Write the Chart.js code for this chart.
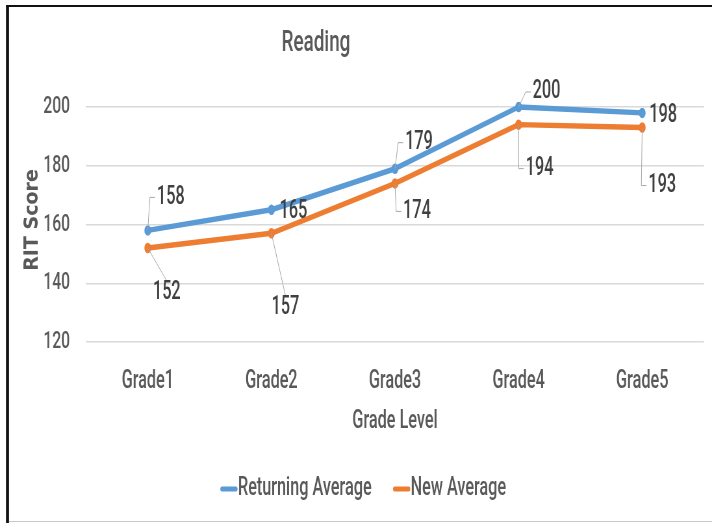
<!DOCTYPE html>
<html>
<head>
<meta charset="utf-8">
<script src="https://cdn.jsdelivr.net/npm/chart.js@4"></script>
<style>
  html, body { margin: 0; padding: 0; background: #fff; }
  #wrap { width: 712px; height: 523px; overflow: hidden; position: relative; }
  /* the original picture is squeezed sideways; draw wide, then squeeze to 712 */
  #myChartReading { position: absolute; left: 0; top: 0; transform-origin: 0 0; }
</style>
</head>
<body>
<div id="wrap"><canvas id="myChartReading" width="1096" height="523"></canvas></div>
<script>
const grades = ['Grade1', 'Grade2', 'Grade3', 'Grade4', 'Grade5']
const returningAvg = [158, 165, 179, 200, 198]
const newAvg = [152, 157, 174, 194, 193]
const yTicks = [120, 140, 160, 180, 200]

const FONT = "Roboto, 'Liberation Sans', sans-serif"
const CW = 1096
const SX = 712 / CW           // horizontal squeeze
const X = px => px / SX       // screen x -> canvas x

document.getElementById('myChartReading').style.transform = 'scaleX(' + SX + ')'

// where each value label sits, relative to its point (screen px), and its leader line kind
const labelSpots = [
    [[23, -33, 'side'], [22, 2, null], [24, -26, 'side'], [28, -15, 'side'], [21, 3, null]],
    [[19, 45, 'top'], [14, 74, 'top'], [22, 28, 'side'], [21, 44, 'side'], [20, 58, 'side']]
]

const frameAndText = {
    id: 'frameAndText',
    beforeDraw(chart) {
        const c = chart.ctx
        c.save()
        c.fillStyle = '#fff'
        c.fillRect(0, 0, chart.width, chart.height)
        c.restore()
    },
    afterDraw(chart) {
        const c = chart.ctx
        c.save()
        // frame
        c.fillStyle = '#111'
        c.fillRect(X(6), 5, X(3), 518)
        c.fillRect(X(6), 5, CW, 2)
        c.fillStyle = '#c8c8c8'
        c.fillRect(X(9), 521, CW, 1)

        // title
        c.fillStyle = '#595959'
        c.font = '500 29px ' + FONT
        c.textAlign = 'center'
        c.textBaseline = 'middle'
        c.fillText('Reading', X(316), 44)

        // y axis title, pre-stretched so the squeeze leaves it upright
        c.save()
        c.translate(X(33), 220)
        c.scale(1 / SX, 1)
        c.rotate(-Math.PI / 2)
        c.font = "bold 19px 'DejaVu Sans', sans-serif"
        c.fillText('RIT Score', 0, 0)
        c.restore()

        // value labels with leader lines
        c.font = '500 25px ' + FONT
        chart.data.datasets.forEach((ds, i) => {
            const meta = chart.getDatasetMeta(i)
            meta.data.forEach((pt, j) => {
                const [dx, dy, kind] = labelSpots[i][j]
                const lx = pt.x + X(dx), ly = pt.y + dy
                const txt = String(ds.data[j])
                const w = c.measureText(txt).width
                if (kind) {
                    c.strokeStyle = '#a6a6a6'
                    c.lineWidth = 1
                    c.beginPath()
                    c.moveTo(pt.x, pt.y)
                    if (kind === 'side') {
                        const ex = lx - w / 2 - X(7)
                        c.lineTo(ex, ly)
                        c.lineTo(ex + X(5), ly)
                    } else {
                        c.lineTo(lx, ly - 12)
                    }
                    c.stroke()
                }
                c.fillStyle = '#404040'
                c.textAlign = 'center'
                c.textBaseline = 'middle'
                c.fillText(txt, lx, ly)
            })
        })

        // legend
        c.font = '500 25px ' + FONT
        c.textBaseline = 'middle'
        c.textAlign = 'left'
        const items = chart.data.datasets.map(ds => ({ text: ds.label, color: ds.borderColor }))
        const mark = X(18), gap = X(21)
        let total = 0
        items.forEach((it, k) => { total += mark + c.measureText(it.text).width + (k ? gap : 0) })
        let x = X(363) - total / 2
        const y = 489
        items.forEach(it => {
            c.strokeStyle = it.color
            c.lineWidth = 5
            c.lineCap = 'round'
            c.beginPath()
            c.moveTo(x + X(2), y)
            c.lineTo(x + mark - X(2), y)
            c.stroke()
            c.fillStyle = '#595959'
            c.fillText(it.text, x + mark, y)
            x += mark + c.measureText(it.text).width + gap
        })
        c.restore()
    }
}

var ctx = document.getElementById('myChartReading')
var myChart = new Chart(ctx, {
    type: 'line',
    data: {
        labels: grades,
        datasets: [{
            label: 'Returning Average',
            data: returningAvg,
            borderColor: '#5B9BD5',
            backgroundColor: '#5B9BD5',
            borderWidth: 5.5,
            pointRadius: 2.5,
            borderCapStyle: 'round',
            borderJoinStyle: 'round',
            clip: false
        }, {
            label: 'New Average',
            data: newAvg,
            borderColor: '#ED7D31',
            backgroundColor: '#ED7D31',
            borderWidth: 5.5,
            pointRadius: 2.5,
            borderCapStyle: 'round',
            borderJoinStyle: 'round',
            clip: false
        }]
    },
    options: {
        responsive: false,
        animation: false,
        events: [],
        layout: { padding: { top: 107, left: X(8), right: X(8), bottom: 86 } },
        plugins: {
            legend: { display: false },
            title: { display: false },
            tooltip: { enabled: false }
        },
        scales: {
            x: {
                offset: true,
                grid: { display: false, drawTicks: false },
                border: { display: false },
                ticks: { color: '#595959', font: { family: FONT, size: 25, weight: 500 }, padding: 25, autoSkip: false, maxRotation: 0 },
                title: {
                    display: true, text: 'Grade Level', color: '#595959',
                    font: { family: FONT, size: 25, weight: 500 }, padding: { top: 0, bottom: 0 }
                },
                afterFit: s => { s.height = 95 }
            },
            y: {
                min: 120,
                max: 200,
                afterBuildTicks: s => { s.ticks = yTicks.map(v => ({ value: v })) },
                grid: { color: '#d9d9d9', lineWidth: 1.5, drawTicks: false },
                border: { display: false },
                ticks: { color: '#595959', font: { family: FONT, size: 24, weight: 500 }, padding: X(16) },
                afterFit: s => { s.width = X(78) }
            }
        }
    },
    plugins: [frameAndText]
})
</script>
</body>
</html>
